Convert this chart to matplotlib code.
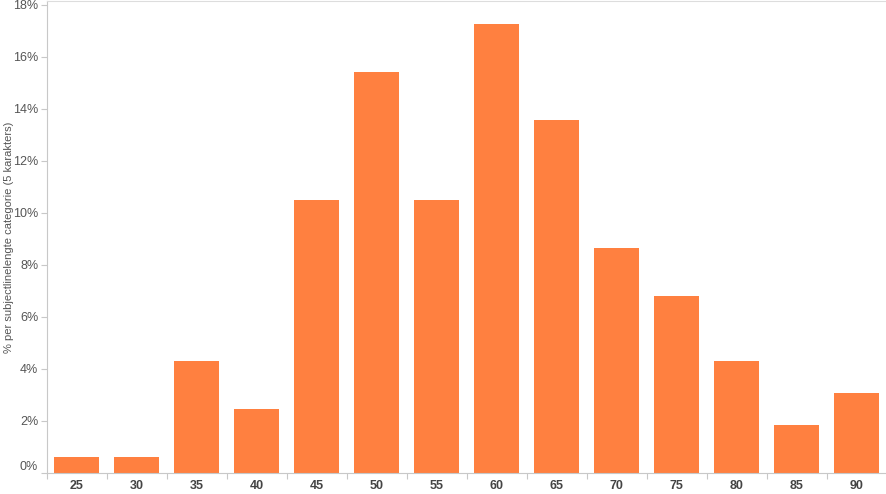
import matplotlib
matplotlib.use('Agg')
from matplotlib import pyplot as plt
import numpy as np

plt.rcParams['font.family'] = ['Liberation Sans', 'DejaVu Sans']

# subject line length categories (5 chars) and share per category in %
categories = ['25', '30', '35', '40', '45', '50', '55', '60', '65', '70', '75', '80', '85', '90']
percentages = [0.62, 0.62, 4.32, 2.47, 10.49, 15.43, 10.49, 17.28, 13.58, 8.64, 6.79, 4.32, 1.85, 3.09]
y_ticks = [0, 2, 4, 6, 8, 10, 12, 14, 16, 18]

bar_color = '#FF8040'
axis_color = '#c8c8c8'

fig = plt.figure(figsize=(8.87, 4.94), dpi=100)
ax = fig.add_axes([46.5 / 887, 21 / 494, 840 / 887, 472 / 494])

x = np.arange(len(categories))
ax.bar(x, percentages, width=0.75, color=bar_color, zorder=2)

ax.set_xlim(-0.5, len(categories) - 0.5)
ax.set_ylim(0, 18.15)

# y axis
ax.set_yticks(y_ticks)
ax.set_yticklabels(['%d%%' % t for t in y_ticks])
ax.tick_params(axis='y', length=4, width=0.8, color=axis_color, labelsize=9,
               labelcolor='#555555', pad=2)
ax.get_yticklabels()[0].set_va('bottom')
ax.set_ylabel('% per subjectlinelengte categorie (5 karakters)', fontsize=8,
              color='#555555', va='center')
ax.yaxis.set_label_coords(-(46.5 - 9) / 840, 0.5)

# x axis: labels at centres, ticks on the boundaries
ax.set_xticks(x)
ax.set_xticklabels(categories, fontsize=9, fontweight='bold', color='#444444')
ax.tick_params(axis='x', length=0, pad=5)
ax.set_xticks(np.arange(-0.5, len(categories)), minor=True)
ax.tick_params(axis='x', which='minor', length=4, width=0.8, color=axis_color)

for side in ['left', 'bottom', 'top', 'right']:
    ax.spines[side].set_color(axis_color)
    ax.spines[side].set_linewidth(0.8)
ax.spines['top'].set_color('#dddddd')
ax.spines['right'].set_color('#dddddd')

fig.savefig('out.png', dpi=100)
